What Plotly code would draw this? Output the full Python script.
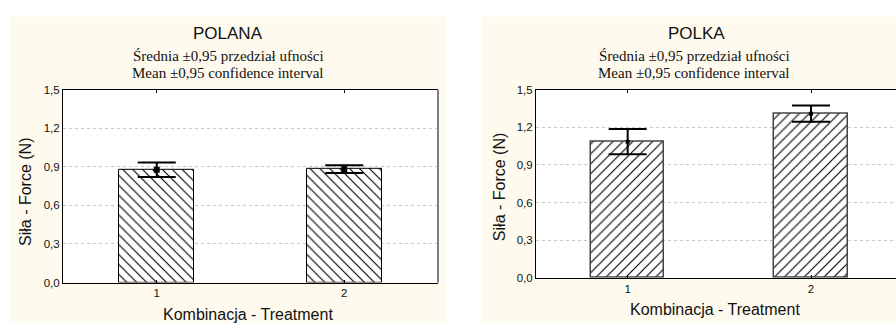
import plotly.graph_objects as go

W, H = 896, 329

# ---- data ----
treatments = ["1", "2"]
polana_mean = [0.878, 0.882]
polana_ci = [0.056, 0.030]
polka_mean = [1.086, 1.310]
polka_ci = [0.101, 0.065]
ytick_vals = [0.0, 0.3, 0.6, 0.9, 1.2, 1.5]
ytick_text = ["0,0", "0,3", "0,6", "0,9", "1,2", "1,5"]
x_pos = [1, 2]

CREAM = "#FFFAEE"

def px(x):
    return x / W

def py(y):
    return 1 - y / H

fig = go.Figure()

pat_kw = dict(size=7, solidity=0.16, fgcolor="black", bgcolor="white", fgopacity=1)

# left panel
fig.add_trace(go.Bar(
    x=x_pos, y=polana_mean, width=0.4, xaxis="x", yaxis="y",
    marker=dict(color="white", line=dict(color="black", width=1),
                pattern=dict(shape="\\", **pat_kw)),
    showlegend=False, hoverinfo="skip"))
fig.add_trace(go.Scatter(
    x=x_pos, y=polana_mean, mode="markers", xaxis="x", yaxis="y",
    marker=dict(symbol="square", size=6, color="black"),
    error_y=dict(type="data", array=polana_ci, color="black", thickness=2, width=19),
    showlegend=False, hoverinfo="skip"))

# right panel
fig.add_trace(go.Bar(
    x=x_pos, y=polka_mean, width=0.4, xaxis="x2", yaxis="y2",
    marker=dict(color="white", line=dict(color="#444444", width=1.5),
                pattern=dict(shape="/", **pat_kw)),
    showlegend=False, hoverinfo="skip"))
fig.add_trace(go.Scatter(
    x=x_pos, y=polka_mean, mode="markers", xaxis="x2", yaxis="y2",
    marker=dict(symbol="square", size=4, color="black"),
    error_y=dict(type="data", array=polka_ci, color="black", thickness=2, width=19),
    showlegend=False, hoverinfo="skip"))

tickfont = dict(family="Liberation Sans, Arial", size=11.5, color="#111111")
common_x = dict(tickvals=x_pos, ticktext=treatments, showgrid=False, zeroline=False,
                showline=True, linecolor="black", linewidth=1, mirror="ticks",
                ticks="inside", ticklen=3, tickcolor="black", tickfont=tickfont)
common_y = dict(tickvals=ytick_vals, ticktext=ytick_text, range=[0, 1.5], showgrid=True,
                gridcolor="#c8c8c8", griddash="dot", gridwidth=1, zeroline=False,
                showline=True, linecolor="black", linewidth=1, ticks="", tickfont=tickfont)

fig.update_layout(
    width=W, height=H, margin=dict(l=0, r=0, t=0, b=0),
    paper_bgcolor="white", plot_bgcolor="white", bargap=0,
    xaxis=dict(domain=[px(63), px(438)], range=[0.5, 2.5], anchor="y", **common_x),
    yaxis=dict(domain=[py(287), py(87)], anchor="x", **common_y),
    xaxis2=dict(domain=[px(536), 1.0], range=[0.5, 2.5 - 6.7 / 184], anchor="y2", **common_x),
    yaxis2=dict(domain=[py(282), py(87)], anchor="x2", **common_y),
)

shapes = [
    dict(type="rect", xref="paper", yref="paper", x0=px(9), x1=px(446), y0=0, y1=py(11),
         fillcolor=CREAM, line=dict(width=0), layer="below"),
    dict(type="rect", xref="paper", yref="paper", x0=px(482), x1=1.0, y0=0, y1=py(11),
         fillcolor=CREAM, line=dict(width=0), layer="below"),
    dict(type="rect", xref="x domain", yref="y domain", x0=0, x1=1, y0=0, y1=1,
         fillcolor="white", line=dict(width=0), layer="below"),
    dict(type="rect", xref="x2 domain", yref="y2 domain", x0=0, x1=1, y0=0, y1=1,
         fillcolor="white", line=dict(width=0), layer="below"),
    dict(type="line", xref="x domain", yref="y domain", x0=1, x1=1, y0=0, y1=1,
         line=dict(color="#808080", width=2)),
]
fig.update_layout(shapes=shapes)

sans = "Liberation Sans, Arial"
serif = "Liberation Serif, Times New Roman"
ann = []
def add(text, x, y, size, family, angle=0):
    ann.append(dict(text=text, x=px(x), y=py(y), xref="paper", yref="paper",
                    showarrow=False, xanchor="center", yanchor="middle",
                    textangle=angle, font=dict(family=family, size=size, color="#111111")))

add("POLANA", 228, 29, 17, sans)
add("Średnia ±0,95 przedział ufności", 228, 52, 15, serif)
add("Mean ±0,95 confidence interval", 228, 70, 15, serif)
add("Siła - Force (N)", 26, 193, 16, sans, -90)
add("Kombinacja - Treatment", 248, 320, 16, sans)

add("POLKA", 696, 29, 17, sans)
add("Średnia ±0,95 przedział ufności", 694, 52, 15, serif)
add("Mean ±0,95 confidence interval", 694, 70, 15, serif)
add("Siła - Force (N)", 499, 188, 16, sans, -90)
add("Kombinacja - Treatment", 715, 315, 16, sans)

fig.update_layout(annotations=ann)

fig.write_html("out.html", config={"displayModeBar": False},
               post_script="document.body.style.margin='0';document.body.style.overflow='hidden';")
